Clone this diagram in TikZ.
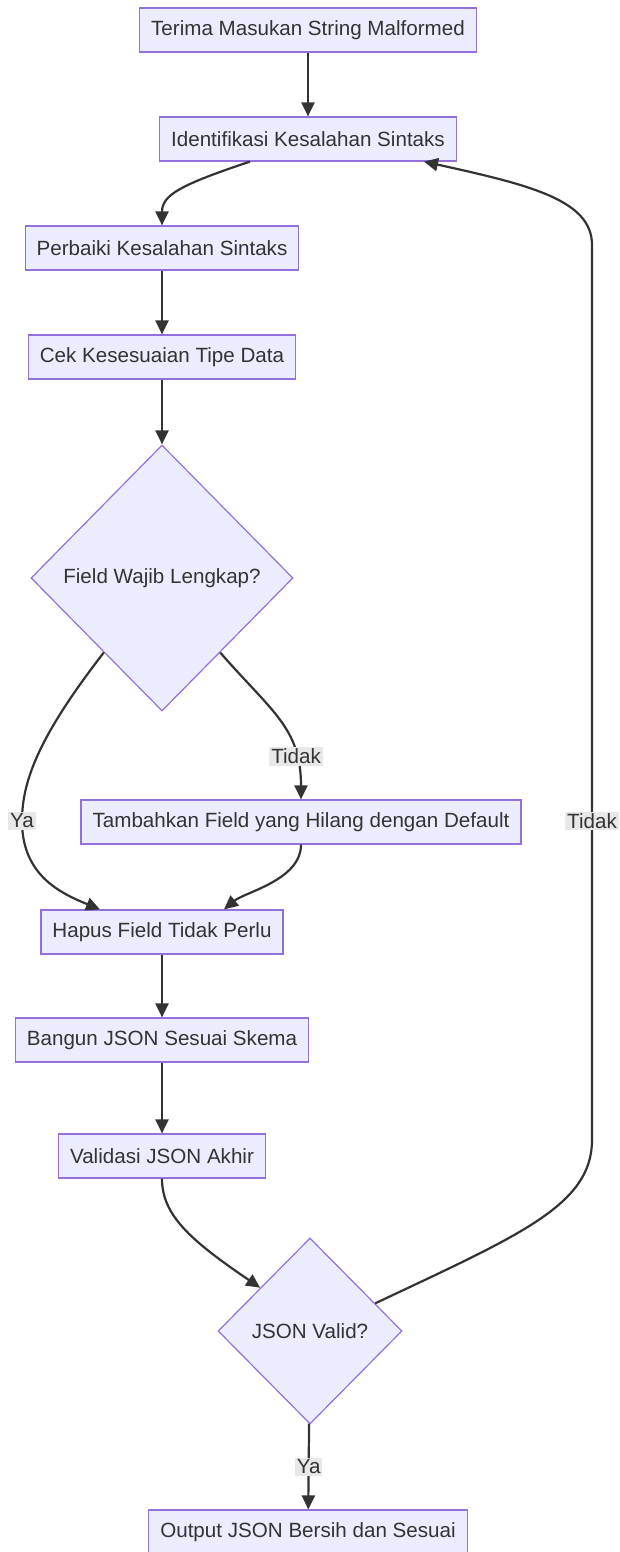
\documentclass[tikz,border=0pt]{standalone}
\usepackage{fontspec}
\setmainfont{Liberation Sans}
\usetikzlibrary{shapes.geometric,arrows.meta}
\definecolor{boxfill}{HTML}{ECECFF}
\definecolor{boxline}{HTML}{9370DB}
\definecolor{ink}{HTML}{333333}
\definecolor{lblbg}{HTML}{E8E8E8}
\tikzset{
  box/.style={draw=boxline, fill=boxfill, line width=1.2pt, text=ink,
    minimum height=44pt, inner xsep=11.5pt, inner ysep=0pt,
    font=\fontsize{20.6}{24}\selectfont},
  choice/.style={diamond, draw=boxline, fill=boxfill, line width=1.2pt, text=ink,
    inner sep=0pt, font=\fontsize{20.6}{24}\selectfont},
  line/.style={draw=ink, line width=2.2pt, -{Triangle[length=14pt,width=13pt]}},
  lbl/.style={fill=lblbg, text=ink, inner sep=1.8pt, font=\fontsize{20.6}{24}\selectfont}
}
\begin{document}
\begin{tikzpicture}[x=1pt,y=-1pt]
\useasboundingbox (0,0) rectangle (620,1552);
\node[box] (terima) at (308,30) {Terima Masukan String Malformed};
\node[box] (ident) at (308,139) {Identifikasi Kesalahan Sintaks};
\node[box] (perbaiki) at (162,248) {Perbaiki Kesalahan Sintaks};
\node[box] (cek) at (162,357) {Cek Kesesuaian Tipe Data};
\node[choice, minimum width=262pt, minimum height=266pt] (wajib) at (162,578) {Field Wajib Lengkap?};
\node[box] (tambah) at (301,822) {Tambahkan Field yang Hilang dengan Default};
\node[box] (hapus) at (162,932) {Hapus Field Tidak Perlu};
\node[box] (bangun) at (162,1040) {Bangun JSON Sesuai Skema};
\node[box] (validasi) at (162,1156) {Validasi JSON Akhir};
\node[choice, minimum width=184pt, minimum height=186pt] (valid) at (310,1331) {JSON Valid?};
\node[box] (output) at (308,1532) {Output JSON Bersih dan Sesuai};

\draw[line] (terima) -- (ident);
\draw[line] ([xshift=-58pt]ident.south) .. controls (180,185) and (162,195) .. (perbaiki.north);
\draw[line] (perbaiki) -- (cek);
\draw[line] (cek) -- (wajib);
\draw[line] (wajib.232) .. controls (40,735) and (22,780) .. (22,821) node[lbl] {Ya}
  .. controls (22,875) and (60,893) .. ([xshift=-62pt]hapus.north);
\draw[line] (wajib.308) .. controls (272,712) and (301,728) .. node[lbl, pos=0.76] {Tidak} (tambah.north);
\draw[line] (tambah.south) .. controls (301,880) and (245,892) .. ([xshift=62pt]hapus.north);
\draw[line] (hapus) -- (bangun);
\draw[line] (bangun) -- (validasi);
\draw[line] (validasi.south) .. controls (162,1215) and (190,1240) .. (valid.139);
\draw[line] (valid) -- node[lbl] {Ya} (output);
\draw[line] (valid.23) .. controls (520,1235) and (592,1205) .. (592,1140)
  -- (592,821) node[lbl] {Tidak} -- (592,245)
  .. controls (592,200) and (530,185) .. ([xshift=116pt]ident.south);
\end{tikzpicture}
\end{document}
